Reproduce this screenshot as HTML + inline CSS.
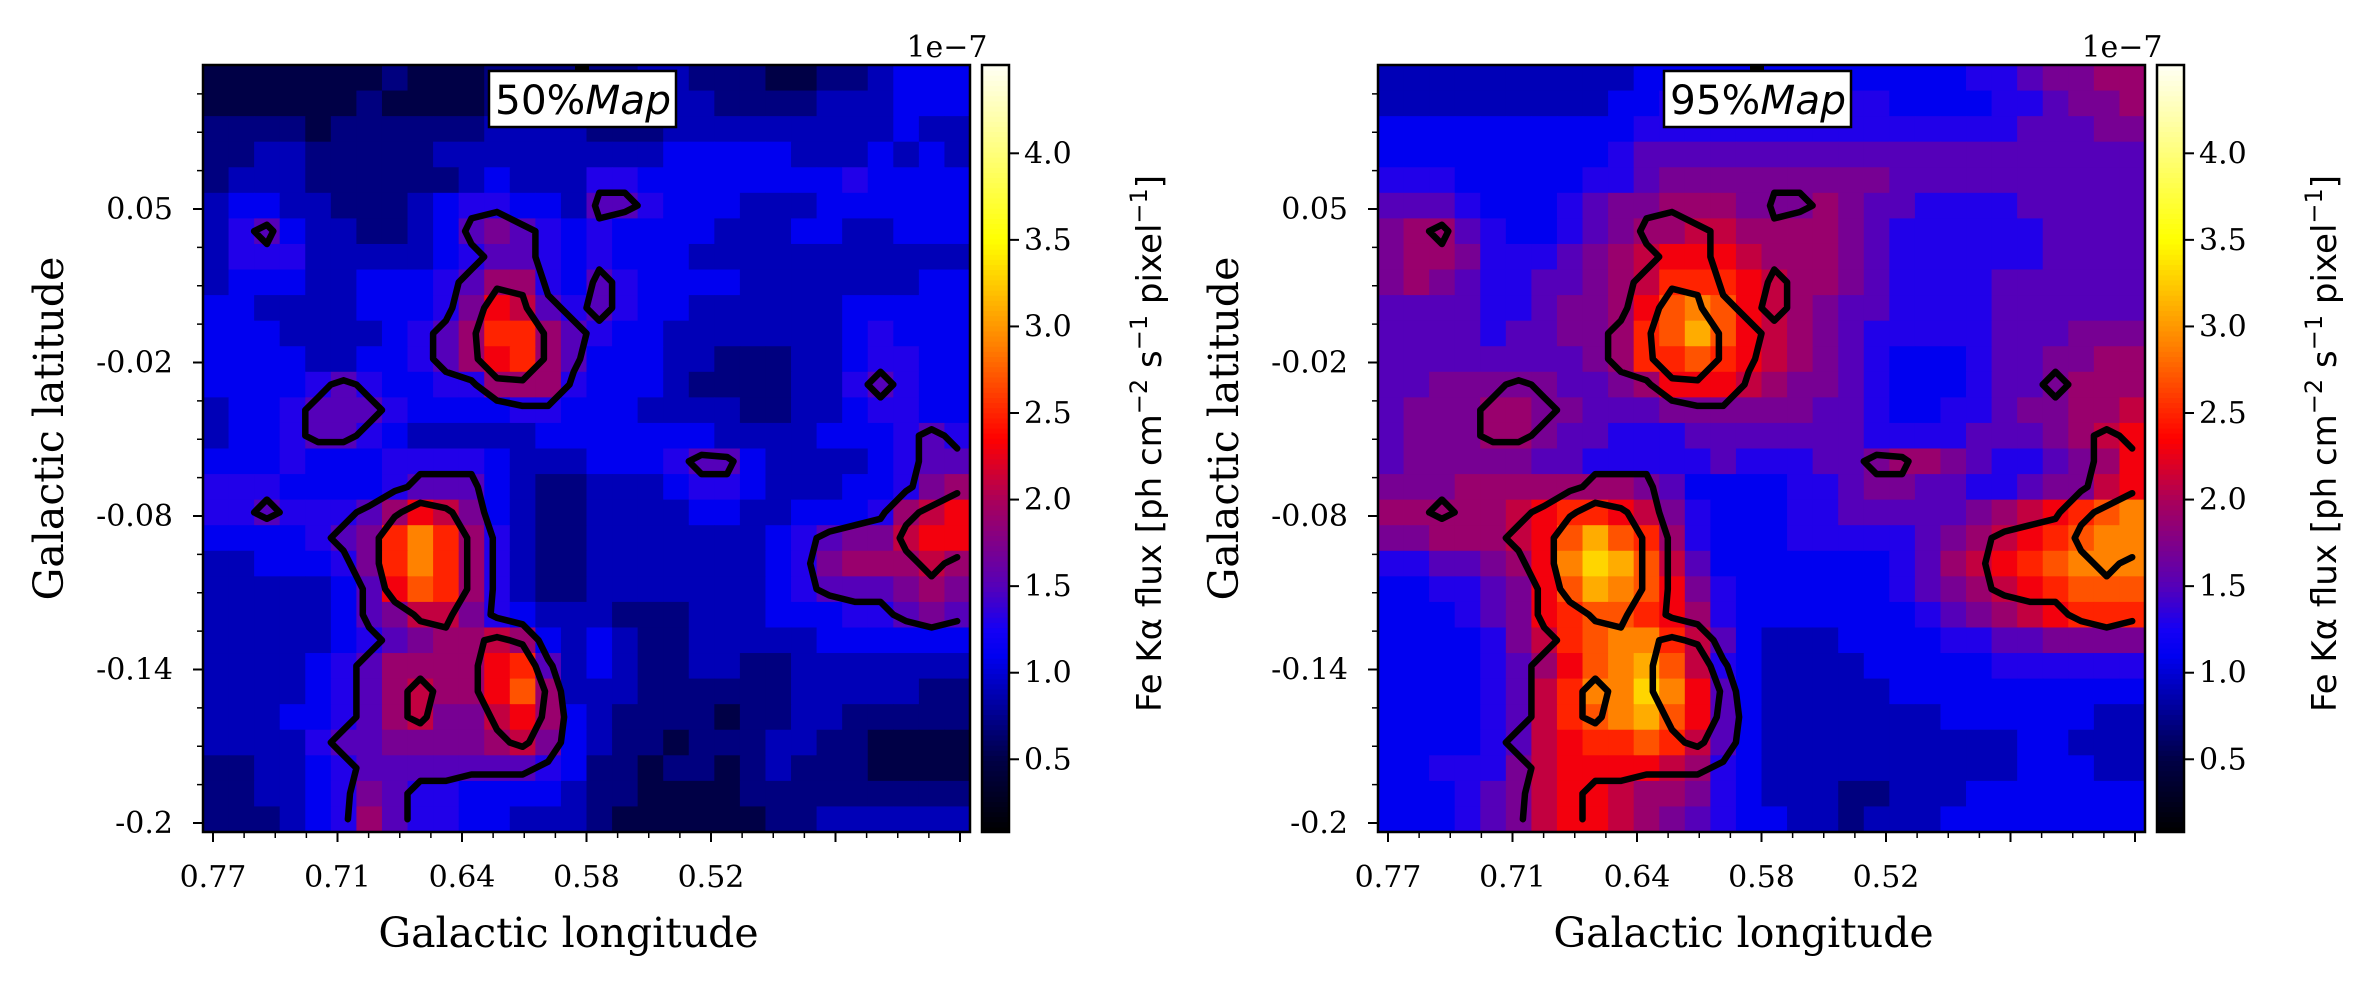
<!DOCTYPE html>
<html><head><meta charset="utf-8"><style>
html,body{margin:0;padding:0;background:#fff;}
svg{display:block;}
.tk{font-family:"DejaVu Serif","Liberation Serif",serif;font-size:30px;fill:#000;}
.al{font-family:"DejaVu Serif","Liberation Serif",serif;font-size:41px;fill:#000;}
.cl{font-family:"DejaVu Sans","Liberation Sans",sans-serif;font-size:34px;fill:#000;}
</style></head><body>
<svg id="fig" width="2372" height="983" viewBox="0 0 2372 983" xmlns="http://www.w3.org/2000/svg"></svg>
<script>
// ---- data: flux levels per pixel (char = level index, value = 0.3 + 0.2*index, x1e-7) ----
const map50Rows = [
"111111121112222223322211223444","111111211112333223332222333444","222212222223333222333333333433",
"223322222333333333444443334343","233322222234333554444444454444","344332223455443665444333444444",
"356433223467654544443334433444","355533333456654544433333333333","344433444568854654444333333344",
"44333344457a965654433333344444","44433334568bb86544333333345444","44443344568ab86444332223345544",
"444456544558885444322223356544","344566654444554443333223345544","344566543333344444443333444565",
"444544455554333444566433334566","555444456664322333455433344578","55655568a97432233334433444589a",
"4444567bdb853223333333456779aa","3344457bdb85322333333345788898","3333346acb85322333333345666787",
"333334679975433322233344455676","333334567889843432233333444444","33334568888ab63432233223333333",
"33334568988ac83332222223333322","333445689779a84322221223322222","333356677778974322122233221111",
"223345666666654221221232221111","223345765544443221111222222222","222345865544333211111122333333"];
const map95Rows = [
"333333333344444444444445567788","333333333445555555554444556778","444444444455555555555555566677",
"444444444566666666666666666666","555444445567777777776666666666","666544456778887778766555566666",
"788654456788998888765555556666","78875556789aaa9888765555556666","78765566789bbba988765555666666",
"6666556778acdca987665555666666","6666566778bceca987655555666777","6666666678bbcba987654445667788",
"66777776678aaa9877654445667888","677788776667777776654455677889","67778876655566666665555666789a",
"67777766555556555667887655678a","77788888887644445567766556779ab".slice(0,30),"888889abba9754445566666789abcd",
"778889acecb85444555556789abcdd","556678adfec9644444445689abcddd","445567acedca7544444456789abccc",
"444567abccba85444444456789abbb","4444579bcddb964333444455667777","4444568acdec954333344444555555",
"4444569bddfda64333334444444444","4444569bcdeca64333333344444433","4444569abbcb964333333333344333",
"4455579aaaa9854333333333344433","4445679aa988754333223334444444","4445679aa987654433233344444444"];
const levelBase = [0.3];
const levelStep = [0.2];
const contourLevels = [5.5, 8.5];
const xTickLabels = ["0.77","0.71","0.64","0.58","0.52"];
const yTickLabels = ["0.05","-0.02","-0.08","-0.14","-0.2"];
const cbTickValues = [0.5,1.0,1.5,2.0,2.5,3.0,3.5,4.0];
const panelTitles = ["50%","95%"];

// ---- layout ----
const NS="http://www.w3.org/2000/svg";
const svg=document.getElementById('fig');
function mk(tag,attrs,parent){const e=document.createElementNS(NS,tag);for(const k in attrs)e.setAttribute(k,attrs[k]);(parent||svg).appendChild(e);return e;}
const AX={w:767,h:767,top:65};
const NC=30,NR=30;
const vmin=0.08,vmax=4.51;
const stops=[[0.08,[0,0,0]],[0.5,[0,0,70]],[1.1,[0,0,240]],[1.25,[20,0,245]],[1.5,[85,0,185]],[2.0,[170,0,90]],[2.35,[255,0,0]],[2.9,[255,130,0]],[3.5,[255,255,0]],[4.51,[255,255,245]]];
function cmap(v){
  if(v<=stops[0][0])return 'rgb(0,0,0)';
  for(let i=1;i<stops.length;i++){if(v<=stops[i][0]){const a=stops[i-1],b=stops[i];const t=(v-a[0])/(b[0]-a[0]);
    return 'rgb('+[0,1,2].map(k=>Math.round(a[1][k]+(b[1][k]-a[1][k])*t)).join(',')+')';}}
  return 'rgb(255,255,245)';
}
function lvl(ch){const n=parseInt(ch,36);return isNaN(n)?null:n;}
function toGrid(rows){return rows.map(r=>r.split('').map(lvl));}

function drawPanel(ox,rows,title,contourGrid,pi){
  const L=ox,T=AX.top,W=AX.w,H=AX.h;
  const cw=W/NC,ch=H/NR;
  const xCell=i=>L+i*cw, yCell=j=>T+j*ch;
  const g=mk('g',{});
  
  const grid=toGrid(rows);
  for(let j=0;j<NR;j++)for(let i=0;i<NC;i++){
    const n=grid[j]&&grid[j][i];if(n==null)continue;
    const v=levelBase[0]+levelStep[0]*n;
    const r=mk('rect',{x:xCell(i).toFixed(2),y:yCell(j).toFixed(2),width:(cw+0.6).toFixed(2),height:(ch+0.6).toFixed(2),fill:cmap(v)},g);
    
    
  }
  const cg=mk('g',{fill:'none',stroke:'#000','stroke-width':6.5,'stroke-linecap':'round','stroke-linejoin':'round'});
  
  const cx=i=>L+(i+0.5)*cw, cy=j=>T+(j+0.5)*ch;
  contourLevels.forEach(th=>{
    let d='';
    for(let j=0;j<NR-1;j++)for(let i=0;i<NC-1;i++){
      const a=contourGrid[j][i],b=contourGrid[j][i+1],c=contourGrid[j+1][i+1],e=contourGrid[j+1][i];
      if([a,b,c,e].some(x=>x==null))continue;
      const pts=[];
      const cr=(p,q,x1,y1,x2,y2)=>{if((p>=th)!==(q>=th)){const t=(th-p)/(q-p);pts.push([x1+(x2-x1)*t,y1+(y2-y1)*t]);}};
      cr(a,b,cx(i),cy(j),cx(i+1),cy(j));
      cr(b,c,cx(i+1),cy(j),cx(i+1),cy(j+1));
      cr(e,c,cx(i),cy(j+1),cx(i+1),cy(j+1));
      cr(a,e,cx(i),cy(j),cx(i),cy(j+1));
      for(let k=0;k+1<pts.length;k+=2)d+='M'+pts[k][0].toFixed(1)+' '+pts[k][1].toFixed(1)+'L'+pts[k+1][0].toFixed(1)+' '+pts[k+1][1].toFixed(1);
    }
    const p=mk('path',{d:d},cg);
    
    
  });
  const fr=mk('rect',{x:L,y:T,width:W,height:H,fill:'none',stroke:'#000','stroke-width':2.5});
  
  const xs=i=>L+10+i*124.5;
  const xg=mk('g',{});
  for(let m=0;m<=24;m++){const x=L+10+m*31.125;if(x>L+W)break;const maj=m%4===0;
    mk('line',{x1:x,y1:T+H,x2:x,y2:T+H+(maj?10:6),stroke:'#000','stroke-width':maj?2:1.5},xg);}
  xTickLabels.forEach((s,i)=>{const t=mk('text',{x:xs(i),y:T+H+55,'text-anchor':'middle',class:'tk'},xg);t.textContent=s;
    });
  const xl=mk('text',{x:L+W/2-18,y:T+H+115,'text-anchor':'middle',class:'al'});xl.textContent='Galactic longitude';
  
  const ys=i=>209+i*153.5;
  const yg=mk('g',{});
  for(let m=-4;m<=17;m++){const y=209+m*38.375;if(y<T||y>T+H)continue;const maj=(m%4+4)%4===0;
    mk('line',{x1:L,y1:y,x2:L-(maj?10:6),y2:y,stroke:'#000','stroke-width':maj?2:1.5},yg);}
  yTickLabels.forEach((s,i)=>{const t=mk('text',{x:L-30,y:ys(i)+10,'text-anchor':'end',class:'tk'},yg);t.textContent=s;
    });
  const yl=mk('text',{x:0,y:0,'text-anchor':'middle',class:'al',transform:'translate('+(L-140)+','+(T+H/2-20)+') rotate(-90)'});yl.textContent='Galactic latitude';
  
  const tb=mk('g',{});
  mk('rect',{x:L+286,y:71,width:187,height:56,fill:'#fff',stroke:'#000','stroke-width':2.5},tb);
  mk('rect',{x:L+372,y:65,width:14,height:5,fill:'#000'},tb);
  const tt=mk('text',{x:L+380,y:114,'text-anchor':'middle','font-family':'DejaVu Sans, Liberation Sans, sans-serif','font-size':40,'textLength':176,'lengthAdjust':'spacingAndGlyphs'},tb);
  const t1=mk('tspan',{},tt);t1.textContent=title;
  const t2=mk('tspan',{'font-style':'italic'},tt);t2.textContent='Map';
  const cbx=L+779,cbw=27;
  const cb=mk('g',{});
  const steps=150;
  for(let k=0;k<steps;k++){const v=vmin+(vmax-vmin)*(k+0.5)/steps;const y=T+H-(k+1)*H/steps;
    mk('rect',{x:cbx,y:y.toFixed(2),width:cbw,height:(H/steps+0.6).toFixed(2),fill:cmap(v)},cb);}
  mk('rect',{x:cbx,y:T,width:cbw,height:H,fill:'none',stroke:'#000','stroke-width':2.5},cb);
  const cbY=v=>T+H-(v-vmin)/(vmax-vmin)*H;
  cbTickValues.forEach(v=>{const y=cbY(v);
    mk('line',{x1:cbx+cbw,y1:y,x2:cbx+cbw+10,y2:y,stroke:'#000','stroke-width':2},cb);
    const t=mk('text',{x:cbx+cbw+15,y:y+10,class:'tk'},cb);t.textContent=v.toFixed(1);
    });
  const ex=mk('text',{x:L+744,y:57,'text-anchor':'middle',class:'tk'},cb);ex.textContent='1e\u22127';
  
  const lab=mk('text',{x:0,y:0,'text-anchor':'middle',class:'cl',transform:'translate('+(cbx+cbw+152)+','+(T+H/2-5)+') rotate(-90)'},cb);
  
  const parts=[['Fe K\u03b1 flux [ph cm',0],['\u22122',1],[' s',0],['\u22121',1],[' pixel',0],['\u22121',1],[']',0]];
  parts.forEach(p=>{const s=mk('tspan',p[1]?{'baseline-shift':'super','font-size':24}:{},lab);s.textContent=p[0];});
}
const g50=toGrid(map50Rows);
drawPanel(203,map50Rows,panelTitles[0],g50,0);
drawPanel(1378,map95Rows,panelTitles[1],g50,1);
</script>
</body></html>
